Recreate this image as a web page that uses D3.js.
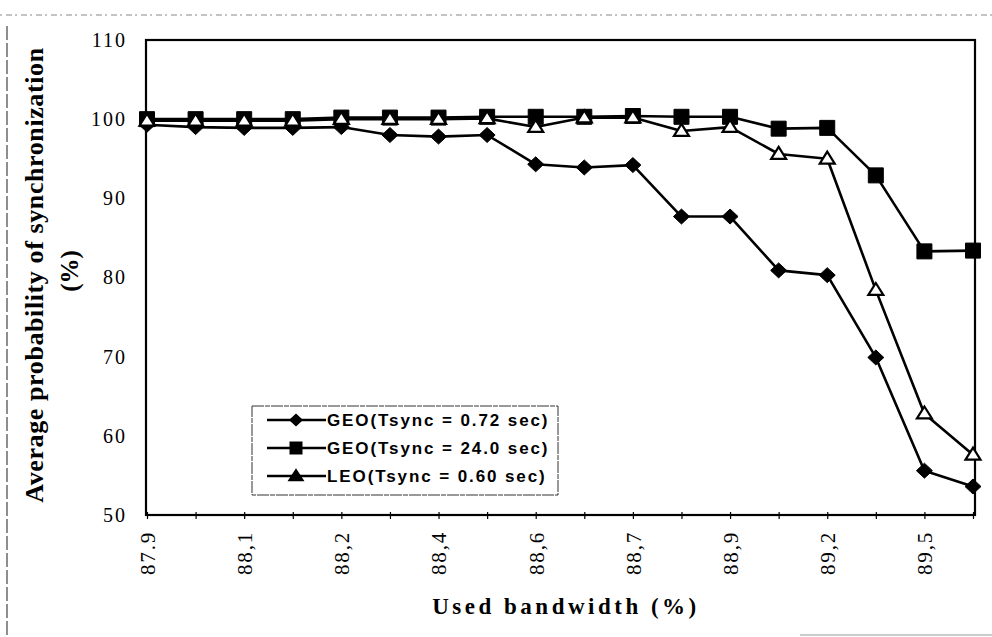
<!DOCTYPE html>
<html>
<head>
<meta charset="utf-8">
<script src="https://cdn.jsdelivr.net/npm/d3@7"></script>
<style>
    body { margin: 0; background: #fff; }
    svg { display: block; }
</style>
</head>
<body>
<script>
// Tick labels along the category axis (Excel shows every other one)
var xLabels = ["87.9", "", "88,1", "", "88,2", "", "88,4", "", "88,6", "",
               "88,7", "", "88,9", "", "89,2", "", "89,5", ""];

// Average probability of synchronization (%) for each scenario
var geo072 = [99.3, 99.0, 98.9, 98.9, 99.0, 98.0, 97.8, 98.0, 94.3,
              93.9, 94.2, 87.7, 87.7, 80.9, 80.3, 69.9, 55.6, 53.6];
var geo240 = [100.0, 100.0, 100.0, 100.0, 100.2, 100.2, 100.2, 100.3, 100.3,
              100.3, 100.4, 100.3, 100.3, 98.8, 98.9, 92.9, 83.3, 83.4];
var leo060 = [99.8, 99.8, 99.8, 99.8, 100.0, 100.0, 100.0, 100.1, 99.0,
              100.2, 100.2, 98.5, 99.0, 95.6, 95.0, 78.4, 62.8, 57.6];

var yTicks = [50, 60, 70, 80, 90, 100, 110];

var seriesNames = ["GEO(Tsync = 0.72 sec)", "GEO(Tsync = 24.0 sec)",
                   "LEO(Tsync = 0.60 sec)"];

var W = 992, H = 637;
var frame = {left: 146, right: 975, top: 40, bottom: 515};
var serif = "'Liberation Serif', 'Times New Roman', serif";

var svg = d3.select("body").append("svg")
    .attr("width", W)
    .attr("height", H);

svg.append("rect").attr("width", W).attr("height", H).attr("fill", "#fff");

// scan edges of the original page
svg.append("line")
    .attr("x1", 0).attr("x2", W).attr("y1", 15).attr("y2", 15)
    .attr("stroke", "#888").attr("stroke-width", 1)
    .attr("stroke-dasharray", "2,4,6,3");
svg.append("line")
    .attr("x1", 7).attr("x2", 7).attr("y1", 26).attr("y2", H)
    .attr("stroke", "#444").attr("stroke-width", 1.2)
    .attr("stroke-dasharray", "14,3");
svg.append("line")
    .attr("x1", 800).attr("x2", W).attr("y1", 635).attr("y2", 635)
    .attr("stroke", "#999").attr("stroke-width", 1);

// scales
var xScale = d3.scalePoint()
    .domain(d3.range(xLabels.length))
    .range([147, 973]);

var yScale = d3.scaleLinear()
    .domain([50, 110])
    .range([frame.bottom, frame.top]);

// x axis with small crossing ticks
var xAxis = d3.axisBottom(xScale)
    .tickSize(4)
    .tickFormat(function(i) { return xLabels[i]; });

var gx = svg.append("g")
    .attr("transform", "translate(0," + frame.bottom + ")")
    .call(xAxis)
    .attr("font-family", serif)
    .attr("font-size", 21);
gx.select(".domain").remove();
gx.selectAll(".tick line")
    .attr("y1", -3)
    .attr("stroke", "#000")
    .attr("stroke-width", 1.2);
gx.selectAll(".tick text")
    .attr("transform", "rotate(-90)")
    .attr("x", -16)
    .attr("y", 0)
    .attr("dy", "0.35em")
    .style("text-anchor", "end")
    .style("font-family", serif)
    .style("font-size", "21px")
    .attr("letter-spacing", "1.8px")
    .attr("fill", "#000");

// y axis, labels only
var yAxis = d3.axisLeft(yScale)
    .tickValues(yTicks)
    .tickSize(0)
    .tickPadding(19);

var gy = svg.append("g")
    .attr("transform", "translate(" + frame.left + ",0)")
    .call(yAxis)
    .attr("font-family", serif)
    .attr("font-size", 20);
gy.select(".domain").remove();
gy.selectAll(".tick text")
    .style("font-family", serif)
    .style("font-size", "20px")
    .attr("letter-spacing", "2px")
    .attr("fill", "#000");

// plot frame
svg.append("rect")
    .attr("x", frame.left)
    .attr("y", frame.top)
    .attr("width", frame.right - frame.left)
    .attr("height", frame.bottom - frame.top)
    .attr("fill", "none")
    .attr("stroke", "#000")
    .attr("stroke-width", 2.2);

// marker shapes
function diamond(w, h) {
    return "M0," + (-h) + "L" + w + ",0L0," + h + "L" + (-w) + ",0Z";
}
function square(s) {
    return "M" + (-s) + "," + (-s) + "H" + s + "V" + s + "H" + (-s) + "Z";
}
function triangle(w, h) {
    return "M0," + (-h * 0.6) + "L" + w + "," + (h * 0.4) +
        "L" + (-w) + "," + (h * 0.4) + "Z";
}

var series = [
    {name: seriesNames[0], values: geo072, path: diamond(8, 7.5),
     fill: "#000", legendPath: diamond(7, 6.5)},
    {name: seriesNames[1], values: geo240, path: square(7.5),
     fill: "#000", legendPath: square(6.5)},
    {name: seriesNames[2], values: leo060, path: triangle(7.5, 12),
     fill: "#fff", legendPath: triangle(8.5, 13)}
];

var line = d3.line()
    .x(function(d, i) { return xScale(i); })
    .y(function(d) { return yScale(d); });

series.forEach(function(s) {
    svg.append("path")
        .datum(s.values)
        .attr("d", line)
        .attr("fill", "none")
        .attr("stroke", "#000")
        .attr("stroke-width", 2.6)
        .attr("stroke-linejoin", "round");
});

series.forEach(function(s) {
    svg.selectAll(null)
        .data(s.values)
        .enter()
        .append("path")
        .attr("d", s.path)
        .attr("transform", function(d, i) {
            return "translate(" + xScale(i) + "," + yScale(d) + ")";
        })
        .attr("fill", s.fill)
        .attr("stroke", "#000")
        .attr("stroke-width", s.fill === "#fff" ? 2.2 : 1);
});

// legend
var legend = svg.append("g");
legend.append("rect")
    .attr("x", 252).attr("y", 406)
    .attr("width", 306).attr("height", 89)
    .attr("fill", "#fff")
    .attr("stroke", "#333")
    .attr("stroke-width", 1)
    .attr("stroke-dasharray", "12,1,5,1");

series.forEach(function(s, i) {
    var y = 420 + i * 28;
    legend.append("line")
        .attr("x1", 267).attr("x2", 326)
        .attr("y1", y).attr("y2", y)
        .attr("stroke", "#000").attr("stroke-width", 2.6);
    legend.append("path")
        .attr("d", s.legendPath)
        .attr("transform", "translate(296," + y + ")")
        .attr("fill", "#000");
    legend.append("text")
        .attr("x", 327).attr("y", y + 6)
        .attr("font-family", "'Liberation Sans', Arial, sans-serif")
        .attr("font-weight", "bold")
        .attr("font-size", "17px")
        .attr("letter-spacing", "1.9px")
        .attr("fill", "#000")
        .text(s.name);
});

// axis titles
svg.append("text")
    .attr("transform", "translate(43,275) rotate(-90)")
    .style("text-anchor", "middle")
    .attr("font-family", serif)
    .attr("font-weight", "bold")
    .attr("font-size", "26px")
    .attr("letter-spacing", "0.6px")
    .text("Average probability of synchronization");

svg.append("text")
    .attr("transform", "translate(78,271) rotate(-90)")
    .style("text-anchor", "middle")
    .attr("font-family", serif)
    .attr("font-weight", "bold")
    .attr("font-size", "25px")
    .text("(%)");

svg.append("text")
    .attr("x", 566).attr("y", 614)
    .style("text-anchor", "middle")
    .attr("font-family", serif)
    .attr("font-weight", "bold")
    .attr("font-size", "23px")
    .attr("letter-spacing", "3.5px")
    .text("Used bandwidth (%)");
</script>
</body>
</html>
